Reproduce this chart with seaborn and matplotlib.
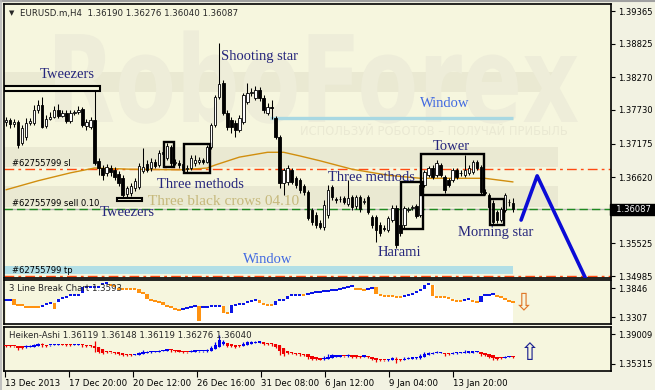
import numpy as np
import pandas as pd
import matplotlib
matplotlib.use("Agg")
import matplotlib.pyplot as plt
import matplotlib.transforms as mtransforms
from matplotlib.patches import Rectangle, PathPatch
from matplotlib.textpath import TextPath
from matplotlib.font_manager import FontProperties
from matplotlib.lines import Line2D
import seaborn as sns

# ---------------- data (EURUSD.m, H4) ----------------
opens = [
    1.3753, 1.3756, 1.3750, 1.3753, 1.3718, 1.3728, 1.3751, 1.3751, 1.3773, 1.3781,
    1.3746, 1.3758, 1.3761, 1.3773, 1.3763, 1.3768, 1.3755, 1.3768, 1.3770, 1.3775,
    1.3746, 1.3745, 1.3756, 1.3689, 1.3677, 1.3669, 1.3677, 1.3674, 1.3667, 1.3660,
    1.3634, 1.3636, 1.3644, 1.3646, 1.3672, 1.3684, 1.3677, 1.3687, 1.3682, 1.3700,
    1.3694, 1.3712, 1.3685, 1.3685, 1.3684, 1.3675, 1.3677, 1.3685, 1.3687, 1.3690,
    1.3687, 1.3712, 1.3748, 1.3794, 1.3818, 1.3768, 1.3756, 1.3751, 1.3740, 1.3753,
    1.3786, 1.3801, 1.3793, 1.3806, 1.3793, 1.3768, 1.3778, 1.3760, 1.3728, 1.3652,
    1.3654, 1.3674, 1.3660, 1.3657, 1.3647, 1.3637, 1.3608, 1.3599, 1.3586, 1.3579,
    1.3599, 1.3646, 1.3626, 1.3626, 1.3627, 1.3617, 1.3629, 1.3614, 1.3629, 1.3621,
    1.3629, 1.3596, 1.3596, 1.3583, 1.3578, 1.3575, 1.3591, 1.3611, 1.3583, 1.3583,
    1.3608, 1.3611, 1.3614, 1.3599, 1.3649, 1.3665, 1.3677, 1.3665, 1.3682, 1.3662,
    1.3657, 1.3657, 1.3674, 1.3669, 1.3665, 1.3669, 1.3670, 1.3687, 1.3679, 1.3637,
    1.3632, 1.3619, 1.3604, 1.3591, 1.3608, 1.3621, 1.36190]
closes = [
    1.3756, 1.3750, 1.3753, 1.3715, 1.3743, 1.3751, 1.3755, 1.3773, 1.3781, 1.3745,
    1.3758, 1.3761, 1.3773, 1.3763, 1.3768, 1.3755, 1.3768, 1.3770, 1.3773, 1.3748,
    1.3753, 1.3756, 1.3685, 1.3677, 1.3665, 1.3679, 1.3670, 1.3662, 1.3652, 1.3632,
    1.3644, 1.3647, 1.3656, 1.3680, 1.3679, 1.3674, 1.3687, 1.3680, 1.3702, 1.3703,
    1.3713, 1.3685, 1.3687, 1.3682, 1.3674, 1.3677, 1.3694, 1.3690, 1.3690, 1.3687,
    1.3712, 1.3748, 1.3794, 1.3816, 1.3768, 1.3745, 1.3745, 1.3740, 1.3760, 1.3798,
    1.3801, 1.3803, 1.3806, 1.3793, 1.3773, 1.3778, 1.3776, 1.3728, 1.3652, 1.3674,
    1.3677, 1.3654, 1.3649, 1.3641, 1.3637, 1.3594, 1.3588, 1.3583, 1.3579, 1.3616,
    1.3641, 1.3629, 1.3624, 1.3625, 1.3621, 1.3627, 1.3613, 1.3629, 1.3609, 1.3622,
    1.3604, 1.3583, 1.3575, 1.3570, 1.3577, 1.3594, 1.3611, 1.3550, 1.3570, 1.3611,
    1.3609, 1.3613, 1.3598, 1.3649, 1.3670, 1.3677, 1.3662, 1.3685, 1.3665, 1.3641,
    1.3649, 1.3674, 1.3662, 1.3668, 1.3674, 1.3677, 1.3687, 1.3677, 1.3637, 1.3636,
    1.3613, 1.3588, 1.3591, 1.3609, 1.3632, 1.3620, 1.36087]
highs = [
    1.3761, 1.3760, 1.3758, 1.3756, 1.3748, 1.3760, 1.3760, 1.3781, 1.3789, 1.3794,
    1.3765, 1.3770, 1.3780, 1.3783, 1.3773, 1.3773, 1.3773, 1.3773, 1.3780, 1.3778,
    1.3758, 1.3761, 1.3809, 1.3694, 1.3682, 1.3684, 1.3682, 1.3679, 1.3672, 1.3665,
    1.3647, 1.3652, 1.3660, 1.3685, 1.3710, 1.3690, 1.3694, 1.3692, 1.3707, 1.3710,
    1.3718, 1.3715, 1.3692, 1.3690, 1.3689, 1.3682, 1.3699, 1.3699, 1.3695, 1.3694,
    1.3715, 1.3751, 1.3798, 1.3884, 1.3822, 1.3773, 1.3761, 1.3756, 1.3765, 1.3801,
    1.3818, 1.3809, 1.3813, 1.3811, 1.3798, 1.3784, 1.3789, 1.3763, 1.3732, 1.3677,
    1.3682, 1.3677, 1.3664, 1.3660, 1.3651, 1.3641, 1.3611, 1.3604, 1.3591, 1.3624,
    1.3649, 1.3649, 1.3629, 1.3631, 1.3631, 1.3657, 1.3632, 1.3632, 1.3632, 1.3627,
    1.3632, 1.3599, 1.3599, 1.3588, 1.3583, 1.3598, 1.3616, 1.3616, 1.3591, 1.3614,
    1.3613, 1.3616, 1.3617, 1.3652, 1.3674, 1.3680, 1.3682, 1.3690, 1.3685, 1.3665,
    1.3660, 1.3677, 1.3677, 1.3674, 1.3699, 1.3682, 1.3690, 1.3690, 1.3682, 1.3642,
    1.3636, 1.3624, 1.3608, 1.3613, 1.3636, 1.3626, 1.36276]
lows = [
    1.3746, 1.3743, 1.3745, 1.3710, 1.3715, 1.3723, 1.3748, 1.3748, 1.3768, 1.3743,
    1.3743, 1.3756, 1.3760, 1.3760, 1.3761, 1.3751, 1.3751, 1.3765, 1.3766, 1.3745,
    1.3740, 1.3741, 1.3682, 1.3665, 1.3657, 1.3664, 1.3664, 1.3657, 1.3647, 1.3627,
    1.3629, 1.3631, 1.3639, 1.3642, 1.3669, 1.3670, 1.3672, 1.3677, 1.3679, 1.3697,
    1.3690, 1.3680, 1.3682, 1.3677, 1.3670, 1.3670, 1.3674, 1.3680, 1.3684, 1.3684,
    1.3685, 1.3708, 1.3745, 1.3791, 1.3765, 1.3740, 1.3735, 1.3728, 1.3737, 1.3750,
    1.3783, 1.3796, 1.3789, 1.3788, 1.3768, 1.3765, 1.3758, 1.3725, 1.3644, 1.3632,
    1.3649, 1.3651, 1.3644, 1.3636, 1.3632, 1.3591, 1.3583, 1.3578, 1.3576, 1.3575,
    1.3594, 1.3624, 1.3619, 1.3621, 1.3617, 1.3614, 1.3608, 1.3609, 1.3604, 1.3617,
    1.3601, 1.3578, 1.3555, 1.3565, 1.3573, 1.3571, 1.3588, 1.3545, 1.3565, 1.3578,
    1.3604, 1.3608, 1.3594, 1.3596, 1.3646, 1.3662, 1.3659, 1.3662, 1.3662, 1.3636,
    1.3646, 1.3654, 1.3659, 1.3664, 1.3662, 1.3665, 1.3667, 1.3674, 1.3634, 1.3632,
    1.3609, 1.3584, 1.3586, 1.3588, 1.3604, 1.3614, 1.36040]

# moving average read at sample bars
ma_bar = [0, 8, 16, 22, 31, 43, 50, 52, 58, 65, 69, 73, 78, 86, 95, 103, 111, 119, 126]
ma_val = [1.3641, 1.3656, 1.3669, 1.3677, 1.3675, 1.3674, 1.3677, 1.3682, 1.3695, 1.3703,
          1.3703, 1.3697, 1.3689, 1.3675, 1.3665, 1.3660, 1.3660, 1.3660, 1.3654]

# 3 Line Break chart bricks (open / close per bar)
lb_open = [
    1.3623, 1.3623, 1.3642, 1.3530, 1.3548, 1.3493, 1.3493, 1.3493, 1.3493, 1.3511,
    1.3530, 1.3567, 1.3567, 1.3586, 1.3642, 1.3679, 1.3697, 1.3716, 1.3716, 1.3753,
    1.3865, 1.3865, 1.3865, 1.3865, 1.3902, 1.3939, 1.3920, 1.3883, 1.3846, 1.3827,
    1.3827, 1.3827, 1.3827, 1.3827, 1.3753, 1.3734, 1.3642, 1.3623, 1.3604, 1.3586,
    1.3530, 1.3511, 1.3474, 1.3455, 1.3437, 1.3474, 1.3474, 1.3511, 1.3511, 1.3493,
    1.3493, 1.3493, 1.3511, 1.3511, 1.3511, 1.3381, 1.3381, 1.3530, 1.3530, 1.3548,
    1.3567, 1.3604, 1.3623, 1.3623, 1.3567, 1.3548, 1.3530, 1.3530, 1.3623, 1.3623,
    1.3642, 1.3716, 1.3716, 1.3716, 1.3734, 1.3716, 1.3753, 1.3772, 1.3772, 1.3790,
    1.3790, 1.3809, 1.3809, 1.3827, 1.3827, 1.3865, 1.3865, 1.3846, 1.3827, 1.3827,
    1.3809, 1.3846, 1.3865, 1.3734, 1.3716, 1.3697, 1.3697, 1.3697, 1.3679, 1.3679,
    1.3716, 1.3716, 1.3753, 1.3790, 1.3827, 1.3902, 1.3902, 1.3679, 1.3679, 1.3679,
    1.3660, 1.3642, 1.3604, 1.3604, 1.3604, 1.3623, 1.3623, 1.3586, 1.3586, 1.3716,
    1.3716, 1.3734, 1.3716, 1.3679, 1.3660, 1.3623, 1.3604]
lb_close = [
    1.3623, 1.3623, 1.3530, 1.3530, 1.3511, 1.3493, 1.3493, 1.3493, 1.3493, 1.3511,
    1.3567, 1.3567, 1.3455, 1.3642, 1.3679, 1.3679, 1.3716, 1.3716, 1.3716, 1.3865,
    1.3865, 1.3865, 1.3865, 1.3865, 1.3939, 1.3939, 1.3883, 1.3883, 1.3827, 1.3827,
    1.3827, 1.3827, 1.3827, 1.3753, 1.3753, 1.3642, 1.3623, 1.3604, 1.3586, 1.3530,
    1.3511, 1.3493, 1.3455, 1.3437, 1.3474, 1.3474, 1.3511, 1.3511, 1.3233, 1.3493,
    1.3493, 1.3511, 1.3511, 1.3511, 1.3381, 1.3381, 1.3530, 1.3530, 1.3548, 1.3548,
    1.3604, 1.3604, 1.3623, 1.3567, 1.3548, 1.3530, 1.3530, 1.3604, 1.3623, 1.3623,
    1.3697, 1.3716, 1.3716, 1.3716, 1.3716, 1.3753, 1.3753, 1.3772, 1.3772, 1.3790,
    1.3790, 1.3809, 1.3809, 1.3827, 1.3865, 1.3865, 1.3902, 1.3827, 1.3827, 1.3790,
    1.3846, 1.3846, 1.3734, 1.3716, 1.3697, 1.3697, 1.3697, 1.3679, 1.3679, 1.3716,
    1.3716, 1.3734, 1.3772, 1.3827, 1.3902, 1.3920, 1.3697, 1.3679, 1.3679, 1.3679,
    1.3660, 1.3604, 1.3604, 1.3604, 1.3623, 1.3660, 1.3586, 1.3586, 1.3697, 1.3716,
    1.3716, 1.3734, 1.3679, 1.3679, 1.3623, 1.3604, 1.3593]

# order lines, window gaps and projection
sl_level, sell_level, tp_level, bid_level = 1.3675, 1.3609, 1.34985, 1.36087
main_ticks = [1.39365, 1.38825, 1.38270, 1.37730, 1.37175, 1.36620, 1.35525, 1.34985]
lb_ticks = [1.3846, 1.3307]
ha_ticks = [1.39009, 1.35315]
xtick_labels = ['13 Dec 2013', '17 Dec 20:00', '20 Dec 12:00', '26 Dec 16:00',
                '31 Dec 08:00', '6 Jan 12:00', '9 Jan 04:00', '13 Jan 20:00']
proj_bar = [128, 132, 144]
proj_price = [1.3591, 1.3664, 1.3495]
window_upper = (65.6, 126, 1.3760)            # bar from, bar to, level
window_lower = (-0.5, 126, 1.3502, 1.3515)    # bar from, bar to, low, high

# ---------------- style ----------------
sns.set_theme(style="white")
plt.rcParams['font.family'] = ['DejaVu Sans']
BG = '#F6F6DE'
W, H = 655, 390
fig = plt.figure(figsize=(W / 100, H / 100), dpi=100)
fig.patch.set_facecolor('#F2F2E2')


def axrect(l, t, r, b):
    return [l / W, 1 - b / H, (r - l) / W, (b - t) / H]


ax = fig.add_axes(axrect(4, 4, 611, 278))
ax2 = fig.add_axes(axrect(4, 280, 611, 324), sharex=ax)
ax3 = fig.add_axes(axrect(4, 327, 611, 371), sharex=ax)

o, h, l, c = (np.array(v) for v in (opens, highs, lows, closes))
n = len(o)
x = np.arange(n)

for a in (ax, ax2, ax3):
    a.set_facecolor(BG)
    for s in a.spines.values():
        s.set_color('black')
        s.set_linewidth(1.2)
    a.yaxis.tick_right()
    a.tick_params(axis='y', direction='out', length=3, width=0.8, pad=2,
                  labelsize=6, colors='black', right=True, left=False)
    a.grid(False)

ax.set_xlim(-0.497, 150.35)
ax.set_ylim(1.34952, 1.39481)

# ---- watermark ----
for (y0, y1) in [(72, 92), (147, 167), (186, 207)]:
    ax.add_patch(Rectangle((0, (278 - y1) / 274), 0.913, (y1 - y0) / 274,
                           transform=ax.transAxes, color='#EAE9D2', lw=0, zorder=0.5))
tp_path = TextPath((0, 0), 'RoboForex', size=1,
                   prop=FontProperties(family='DejaVu Sans', weight='bold'))
bb = tp_path.get_extents()
sx = 523 / bb.width
sy = 88 / 0.73
tr = mtransforms.Affine2D().translate(-bb.x0, 0).scale(sx / W, sy / H).translate(55 / W, (H - 122) / H) + fig.transFigure
ax.add_patch(PathPatch(tp_path, transform=tr, color='#EEEDD9', lw=0, zorder=0.6))
ax.text(0.487, 0.535, 'ИСПОЛЬЗУЙ РОБОТОВ – ПОЛУЧАЙ ПРИБЫЛЬ', transform=ax.transAxes,
        fontsize=8.3, color='#EAE9D3', va='center', ha='left', zorder=0.6)

# ---- order lines & windows ----
ax.axhline(bid_level, color='#B4B4B4', lw=1, zorder=1)
ax.axhline(sl_level, color='#FF4A12', lw=1, ls=(0, (7, 3, 2, 3)), zorder=1.5)
ax.axhline(tp_level, color='#FF4A12', lw=1, ls=(0, (7, 3, 2, 3)), zorder=1.5)
ax.axhline(sell_level, color='#1F8A1F', lw=1, ls=(0, (6, 3)), zorder=1.6)
ax.hlines(window_upper[2], window_upper[0], window_upper[1], color='#A8D8E2', lw=2.4, zorder=1.4)
ax.fill_between([window_lower[0], window_lower[1]], window_lower[2], window_lower[3],
                color='#B2DFE6', lw=0, zorder=1.3)
for lvl, txt in [(sl_level, '#62755799 sl'), (sell_level, '#62755799 sell 0.10'), (tp_level, '#62755799 tp')]:
    ax.text(1.5, lvl + 0.00092, txt, fontsize=6, color='black', va='center', ha='left', zorder=6)

# ---- moving average ----
sns.lineplot(x=ma_bar, y=ma_val, ax=ax, color='#D18E0E', lw=1, legend=False, zorder=2)

# ---- candles ----
up = c >= o
ax.vlines(x, l, h, color='black', lw=0.75, zorder=3)
body = np.maximum(np.abs(c - o), 0.00006)
ax.bar(x, body, bottom=np.minimum(o, c), width=0.6,
       color=np.where(up, 'white', 'black'), edgecolor='black', linewidth=0.6, zorder=4)


# ---- pattern boxes (extent taken from the candles they enclose) ----
def pattern_box(i0, i1, padx=0.75, pady=0.00015):
    lo = l[i0:i1 + 1].min() - pady
    hi = h[i0:i1 + 1].max() + pady
    ax.add_patch(Rectangle((i0 - padx, lo), i1 - i0 + 2 * padx, hi - lo, fill=False,
                           ec='black', lw=1.7, zorder=5))


for i0, i1 in [(40, 41), (45, 50), (99, 103), (104, 118), (121, 123)]:
    pattern_box(i0, i1)

# tweezers (thin boxes at the matched extreme)
ax.add_patch(Rectangle((-0.5, h[22] - 0.0004), 23.9, 0.0008, fc=BG, ec='black', lw=1.5, zorder=5))
ax.add_patch(Rectangle((27.6, l[29] - 0.0005), 6.2, 0.0006, fc=BG, ec='black', lw=1.5, zorder=5))

# ---- projection ----
sns.lineplot(x=proj_bar, y=proj_price, ax=ax, color='#0B0BD6', lw=2.6, legend=False, zorder=5)

# ---- labels ----
navy = '#26267C'
serif = 'Liberation Serif'
for txt, xi, yp in [('Tweezers', 8.45, 1.3831), ('Shooting star', 53.4, 1.3862),
                    ('Three methods', 37.5, 1.3650), ('Tweezers', 23.4, 1.3604),
                    ('Three methods', 80.0, 1.3661), ('Tower', 106.1, 1.3713),
                    ('Morning star', 112.3, 1.3570), ('Harami', 92.4, 1.3538)]:
    ax.text(xi, yp, txt, family=serif, fontsize=10.5, color=navy, ha='left', va='center', zorder=7)
ax.text(35.3, 1.3622, 'Three black crows 04.10', family=serif, fontsize=11, color='#C6B97C',
        ha='left', va='center', zorder=6.5)
for xi, yp in [(102.9, 1.3784), (58.9, 1.3525)]:
    ax.text(xi, yp, 'Window', family=serif, fontsize=10.5, color='#4169E1', ha='left', va='center', zorder=7)

ax.text(0.008, 0.966, '▼', transform=ax.transAxes, fontsize=5, va='center', ha='left')
ax.text(0.027, 0.966, 'EURUSD.m,H4  1.36190 1.36276 1.36040 1.36087', transform=ax.transAxes,
        fontsize=6.2, va='center', ha='left')

ax.set_yticks(main_ticks)
ax.set_yticklabels([f'{t:.5f}' for t in main_ticks])
ax.text(1.0, bid_level, '  1.36087 ', transform=mtransforms.blended_transform_factory(ax.transAxes, ax.transData),
        fontsize=6, color='white', va='center', ha='left', clip_on=False,
        bbox=dict(boxstyle='square,pad=0.15', fc='black', ec='black'))
ax.tick_params(axis='x', bottom=False, labelbottom=False)

# ---------------- 3 Line Break panel ----------------
ax2.set_ylim(1.3177, 1.3995)
lbo, lbc = np.array(lb_open), np.array(lb_close)
BLUE, ORANGE = '#0A14E6', '#FF9210'
cols = []
prev_col, prev_c = BLUE, lbc[0]
for i in range(n):
    if lbc[i] > lbo[i]:
        col = BLUE
    elif lbc[i] < lbo[i]:
        col = ORANGE
    else:
        col = BLUE if lbc[i] > prev_c else (ORANGE if lbc[i] < prev_c else prev_col)
    cols.append(col)
    prev_col, prev_c = col, lbc[i]
top = np.maximum(lbo, lbc)
ax2.fill_between(x, 1.3177, top, step='mid', color='white', lw=0, zorder=1)
hgt = np.abs(lbc - lbo)
thin = hgt < 0.0035
ax2.bar(x, np.where(thin, 0.0033, hgt), bottom=np.where(thin, lbc - 0.00165, np.minimum(lbo, lbc)),
        width=0.85, color=cols, lw=0, zorder=2)
ax2.set_yticks(lb_ticks)
ax2.set_yticklabels([f'{t:.4f}' for t in lb_ticks])
ax2.tick_params(axis='x', bottom=False, labelbottom=False)
ax2.text(0.008, 0.8, '3 Line Break Chart 1.3593', transform=ax2.transAxes, fontsize=6.2,
         va='center', ha='left', zorder=5)
ax2.text(0.857, 0.5, '⇩', transform=ax2.transAxes, fontsize=17, color='#E0782A',
         va='center', ha='center', family='DejaVu Sans', zorder=5)

# ---------------- Heiken-Ashi panel ----------------
ax3.set_ylim(1.34453, 1.39871)
ha_c = (o + h + l + c) / 4
ha_o = np.empty(n)
ha_o[0] = (o[0] + c[0]) / 2
for i in range(1, n):
    ha_o[i] = (ha_o[i - 1] + ha_c[i - 1]) / 2
ha_h = np.maximum.reduce([h, ha_o, ha_c])
ha_l = np.minimum.reduce([l, ha_o, ha_c])
hcol = np.where(ha_c >= ha_o, '#0000F0', '#F00000')
ax3.vlines(x, ha_l, ha_h, colors=hcol, lw=0.9, zorder=2)
ax3.bar(x, np.maximum(np.abs(ha_c - ha_o), 0.0016), bottom=np.minimum(ha_o, ha_c),
        width=0.85, color=hcol, lw=0, zorder=3)
ax3.set_yticks(ha_ticks)
ax3.set_yticklabels([f'{t:.5f}' for t in ha_ticks])
ax3.text(0.008, 0.8, 'Heiken-Ashi 1.36119 1.36148 1.36119 1.36276 1.36040', transform=ax3.transAxes,
         fontsize=6.2, va='center', ha='left', zorder=5)
ax3.text(0.866, 0.42, '⇧', transform=ax3.transAxes, fontsize=17, color='#1C2290',
         va='center', ha='center', family='DejaVu Sans', zorder=5)

ax3.set_xticks(-0.25 + 15.905 * np.arange(len(xtick_labels)))
ax3.set_xticklabels(xtick_labels)
ax3.tick_params(axis='x', bottom=True, direction='out', length=4, width=0.8, pad=1.5,
                labelsize=6.2, colors='black')
for lbl in ax3.get_xticklabels():
    lbl.set_ha('left')
ax3.set_xlim(-0.497, 150.35)

# window frame
fig.add_artist(Line2D([0, 1], [1 - 1 / H, 1 - 1 / H], transform=fig.transFigure, color='#A0A0A0', lw=1.5))
fig.add_artist(Line2D([1 / W, 1 / W], [0, 1], transform=fig.transFigure, color='#B8B8B8', lw=1.2))

fig.savefig('out.png', dpi=100, facecolor=fig.get_facecolor())
